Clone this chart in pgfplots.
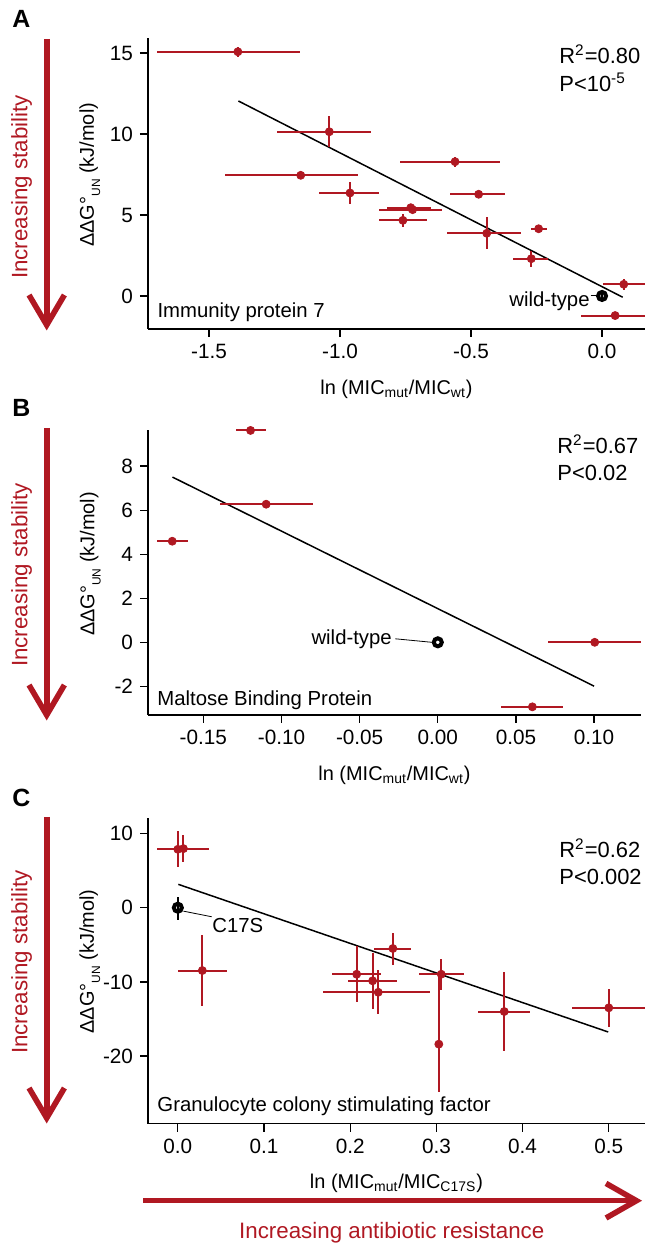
\documentclass[border=0pt]{standalone}
\usepackage{fontspec}
\setmainfont{Liberation Sans}
\usepackage{pgfplots}
\pgfplotsset{compat=1.18}
\definecolor{dred}{RGB}{176,24,34}

\newcommand{\dGlabel}{ΔΔG°\raisebox{-0.6ex}{\fontsize{6}{7}\selectfont UN} (kJ/mol)}

\pgfplotsset{
  panel/.style={
    scale only axis, anchor=south west, axis lines*=left, clip=false,
    axis line style={line width=0.65bp, black},
    tick style={line width=0.65bp, black},
    tick align=outside, major tick length=4bp,
    /pgf/number format/assume math mode=true,
    tick label style={font=\fontsize{10.4}{12}\selectfont},
    label style={font=\fontsize{11}{13}\selectfont},
    every axis y label/.style={at={(axis description cs:-0.117,0.53)}, rotate=90, anchor=center},
    every axis x label/.style={at={(axis description cs:0.5,0)}, anchor=center, yshift=-30bp},
  },
  pts/.style={dred, only marks, mark=*, mark size=2bp,
    error bars/.cd, x dir=both, x explicit, y dir=both, y explicit,
    error bar style={line width=1bp, dred}, error mark=none},
  fitline/.style={black, line width=0.75bp, no marks},
  wt/.style={black, only marks, mark=o, mark size=2bp, mark options={line width=2bp, fill=white},
    error bars/.cd, y dir=both, y explicit, error bar style={line width=1bp, black}, error mark=none},
}
\tikzset{
  note/.style={font=\fontsize{10.2}{12}\selectfont, inner sep=0pt},
  stat/.style={font=\fontsize{11}{13}\selectfont, anchor=base west, inner sep=0pt},
  letter/.style={font=\fontsize{12.5}{14}\selectfont\bfseries, anchor=base west, inner sep=0pt},
}

\begin{document}
\begin{tikzpicture}
\path[use as bounding box] (0,0) rectangle (322.5bp,622bp);

% ---- A: immunity protein 7
\begin{axis}[panel, at={(74bp,457.5bp)}, width=248.5bp, height=145.5bp,
  xmin=-1.733, xmax=0.164, ymin=-2.04, ymax=15.93,
  xtick={-1.5,-1,-0.5,0}, ytick={0,5,10,15},
  xticklabel style={/pgf/number format/.cd, fixed, fixed zerofill, precision=1},
  xlabel={ln (MIC\textsubscript{mut}/MIC\textsubscript{wt})},
  ylabel={\dGlabel}]
\addplot[fitline] coordinates {(-1.388,12.04) (0.079,-0.08)};
\addplot[pts] table[x=x, y=y, x error minus=xm, x error plus=xp, y error minus=ym, y error plus=yp] {
x      y      xm     xp     ym    yp
-1.390 15.08  0.310  0.237  0.30  0.30
-1.041 10.14  0.198  0.159  0.95  0.95
-1.150  7.45  0.289  0.220  0.15  0.15
-0.962  6.36  0.117  0.111  0.67  0.67
-0.730  5.45  0.092  0.077  0.20  0.20
-0.723  5.33  0.127  0.111  0.20  0.20
-0.760  4.67  0.090  0.091  0.40  0.40
-0.561  8.29  0.210  0.172  0.30  0.30
-0.471  6.28  0.109  0.101  0.15  0.15
-0.440  3.87  0.150  0.130  0.98  0.98
-0.242  4.15  0.030  0.031  0.15  0.15
-0.270  2.30  0.071  0.065  0.50  0.50
 0.083  0.72  0.080  0.081  0.35  0.35
 0.050 -1.21  0.130  0.114  0.20  0.20
};
\addplot[wt] table[x=x, y=y, y error minus=ym, y error plus=yp] {
x y ym yp
0 0 0.2 0.2
};
\draw[black, line width=0.4bp] (axis cs:-0.044,0.05) -- (axis cs:-0.022,0.05);
\node[note, anchor=base east] at (axis cs:-0.046,-0.68) {wild-type};
\node[note, anchor=base west] at (axis cs:-1.698,-1.34) {Immunity protein 7};
\end{axis}

% ---- B: maltose binding protein
\begin{axis}[panel, at={(74bp,264.5bp)}, width=246.5bp, height=142.5bp,
  xmin=-0.1854, xmax=0.130, ymin=-3.3, ymax=9.64,
  xtick={-0.15,-0.1,-0.05,0,0.05,0.1}, ytick={-2,0,2,4,6,8},
  xticklabel style={/pgf/number format/.cd, fixed, fixed zerofill, precision=2},
  xlabel={ln (MIC\textsubscript{mut}/MIC\textsubscript{wt})},
  ylabel={\dGlabel}]
\addplot[fitline] coordinates {(-0.1697,7.5) (0.1,-1.99)};
\addplot[pts] table[x=x, y=y, x error minus=xm, x error plus=xp, y error minus=ym, y error plus=yp] {
x       y      xm      xp      ym  yp
-0.1198  9.62  0.0094  0.0098  0   0
-0.1098  6.27  0.0298  0.0299  0   0
-0.1699  4.59  0.0098  0.0099  0   0
 0.1004  0.00  0.0299  0.0296  0   0
 0.0605 -2.93  0.0200  0.0198  0   0
};
\addplot[wt] table[x=x, y=y, y error minus=ym, y error plus=yp] {
x y ym yp
0 0 0 0
};
\draw[black, line width=0.4bp] (axis cs:-0.0272,0.16) -- (axis cs:-0.0037,0.0);
\node[note, anchor=base east] at (axis cs:-0.0292,-0.08) {wild-type};
\node[note, anchor=base west] at (axis cs:-0.1796,-2.85) {Maltose Binding Protein};
\end{axis}

% ---- C: granulocyte colony stimulating factor
\begin{axis}[panel, at={(74bp,60.25bp)}, width=248.5bp, height=152.75bp,
  xmin=-0.0346, xmax=0.542, ymin=-29.1, ymax=12.1,
  xtick={0,0.1,0.2,0.3,0.4,0.5}, ytick={-20,-10,0,10},
  xticklabel style={/pgf/number format/.cd, fixed, fixed zerofill, precision=1},
  xlabel={ln (MIC\textsubscript{mut}/MIC\textsubscript{C17S})},
  ylabel={\dGlabel}]
\addplot[fitline] coordinates {(0.0006,3.15) (0.4993,-16.76)};
\addplot[pts] table[x=x, y=y, x error minus=xm, x error plus=xp, y error minus=ym, y error plus=yp] {
x       y       xm      xp      ym    yp
0.0000   7.88   0       0       2.40  2.40
0.0065   7.97   0.0310  0.0300  1.80  1.80
0.0284  -8.47   0.0278  0.0284  4.75  4.75
0.2075  -8.97   0.0290  0.0280  3.75  3.75
0.2260  -9.86   0.0290  0.0280  3.75  3.75
0.2325 -11.40   0.0635  0.0605  3.00  3.00
0.2495  -5.50   0.0215  0.0205  2.16  2.10
0.3056  -8.97   0.0256  0.0264  2.10  2.10
0.3028 -18.40   0       0       6.50  9.40
0.3787 -14.00   0.0310  0.0300  5.35  5.35
0.5000 -13.50   0.0425  0.0420  2.60  2.60
};
\addplot[wt] table[x=x, y=y, y error minus=ym, y error plus=yp] {
x y ym yp
0 0 1.6 1.5
};
\draw[black, line width=0.4bp] (axis cs:0.0064,-0.46) -- (axis cs:0.0393,-1.22);
\node[note, anchor=base west] at (axis cs:0.0397,-3.3) {C17S};
\node[note, anchor=base west] at (axis cs:-0.0241,-27.5) {Granulocyte colony stimulating factor};
\end{axis}

% ---- statistics
\node[stat] at (279.5bp,590.35bp) {R\textsuperscript{2}=0.80};
\node[stat] at (279.5bp,576.15bp) {P<10\textsuperscript{-5}};
\node[stat] at (278.5bp,395.35bp) {R\textsuperscript{2}=0.67};
\node[stat] at (278.5bp,381.65bp) {P<0.02};
\node[stat] at (279.5bp,193.15bp) {R\textsuperscript{2}=0.62};
\node[stat] at (279.5bp,179.5bp) {P<0.002};

% ---- panel letters
\node[letter] at (6bp,608bp) {A};
\node[letter] at (6bp,413.5bp) {B};
\node[letter] at (6bp,218.5bp) {C};

% ---- red arrows
\begin{scope}[dred, line width=2.8bp, line join=miter]
\draw (23.35bp,602.5bp) -- (23.35bp,461bp);
\draw (14.5bp,474.5bp) -- (23.35bp,459.5bp) -- (32.2bp,474.5bp);
\draw (23.35bp,408bp) -- (23.35bp,266bp);
\draw (14.5bp,279.5bp) -- (23.35bp,264.5bp) -- (32.2bp,279.5bp);
\draw (23.35bp,213.5bp) -- (23.35bp,64.5bp);
\draw (14.5bp,78bp) -- (23.35bp,63bp) -- (32.2bp,78bp);
\draw (71.5bp,21.65bp) -- (317bp,21.65bp);
\draw (303bp,30.3bp) -- (318.2bp,21.65bp) -- (303bp,13bp);
\end{scope}
\node[dred, rotate=90, font=\fontsize{11.2}{13}\selectfont] at (10.85bp,528.5bp) {Increasing stability};
\node[dred, rotate=90, font=\fontsize{11.2}{13}\selectfont] at (10.85bp,334.5bp) {Increasing stability};
\node[dred, rotate=90, font=\fontsize{11.2}{13}\selectfont] at (10.85bp,141bp) {Increasing stability};
\node[dred, anchor=base, font=\fontsize{11.2}{13}\selectfont] at (195.9bp,3bp) {Increasing antibiotic resistance};
\end{tikzpicture}
\end{document}
